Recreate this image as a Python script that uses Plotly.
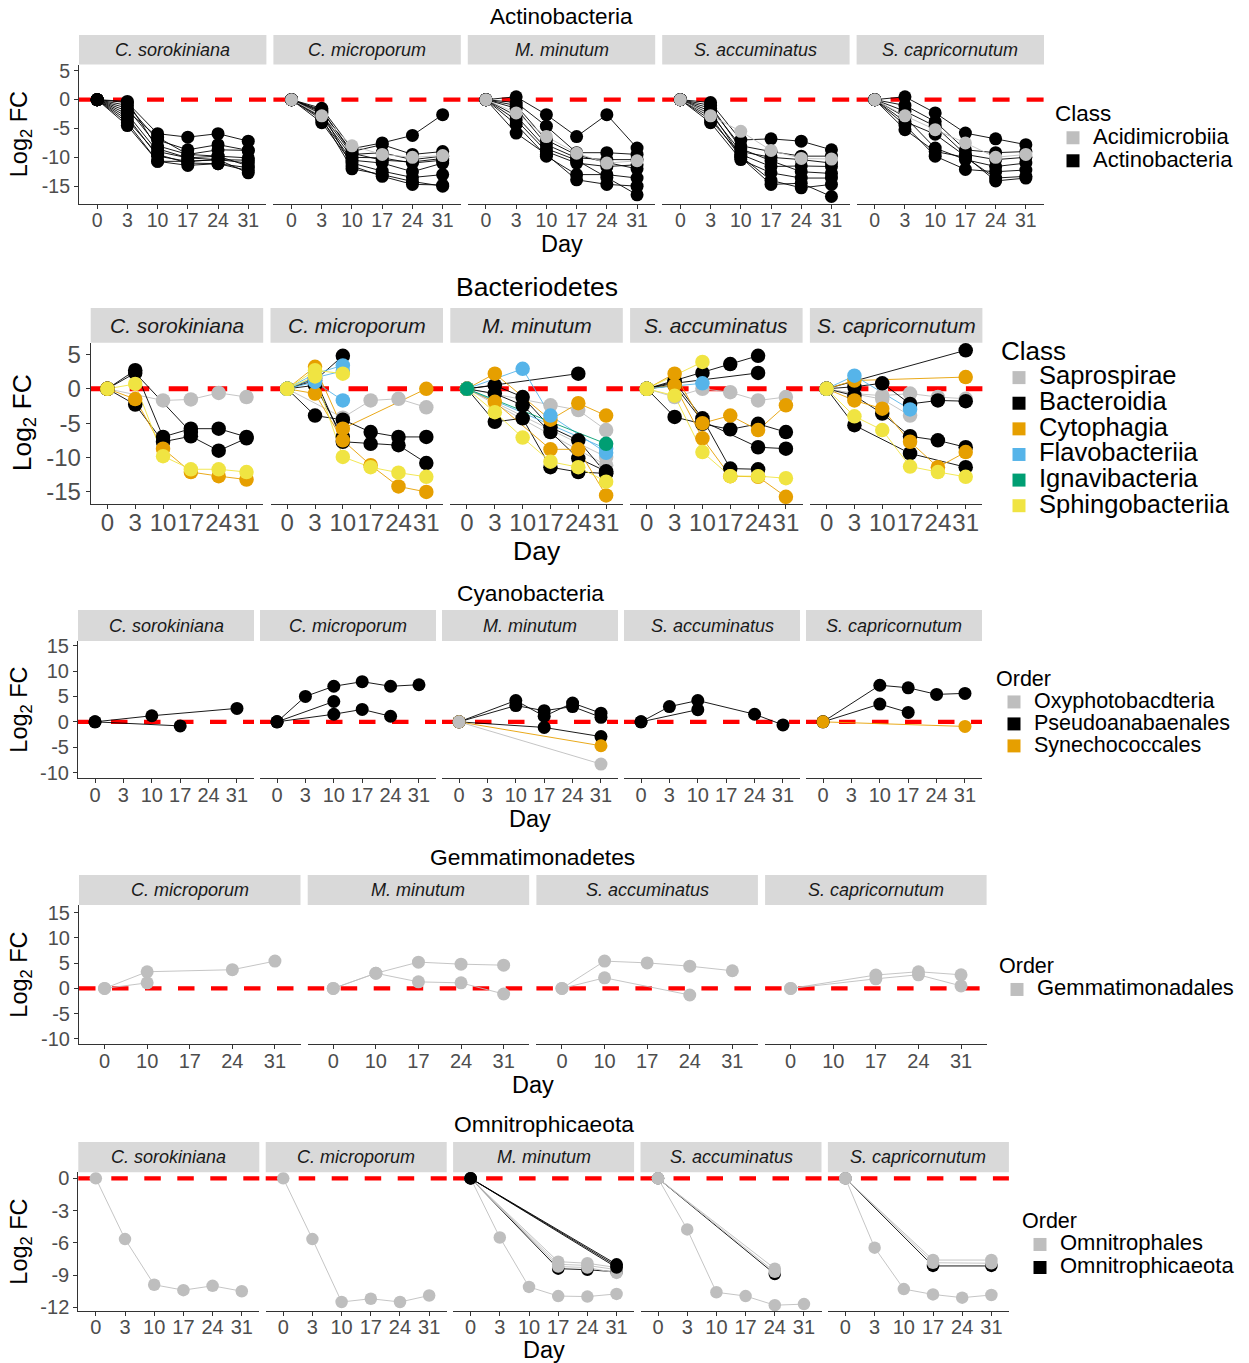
import plotly.graph_objects as go

FIG_W, FIG_H = 1249, 1363
FONT = "Liberation Sans, Arial, Helvetica, sans-serif"

# ---------------- colours ----------------
CLASS_COLORS = {
    "Acidimicrobiia": "#BEBEBE", "Actinobacteria": "#000000",
    "Saprospirae": "#BEBEBE", "Bacteroidia": "#000000", "Cytophagia": "#E69F00",
    "Flavobacteriia": "#56B4E9", "Ignavibacteria": "#009E73", "Sphingobacteriia": "#F0E442",
    "Oxyphotobacdteria": "#BEBEBE", "Pseudoanabaenales": "#000000", "Synechococcales": "#E69F00",
    "Gemmatimonadales": "#BEBEBE",
    "Omnitrophales": "#BEBEBE", "Omnitrophicaeota": "#000000",
}

# ---------------- data ----------------
DAYS6 = ["0", "3", "10", "17", "24", "31"]
DAYS5 = ["0", "10", "17", "24", "31"]
ALGAE5 = ["C. sorokiniana", "C. microporum", "M. minutum", "S. accuminatus", "S. capricornutum"]
ALGAE4 = ["C. microporum", "M. minutum", "S. accuminatus", "S. capricornutum"]

ACT_CLASSES = ["Acidimicrobiia", "Actinobacteria"]
ACT_C_SOROKINIANA = [
    ("Actinobacteria", [0, -0.5, -5.9, -6.5, -5.9, -7.2]),
    ("Actinobacteria", [0, -1.0, -7.0, -8.7, -7.8, -8.8]),
    ("Actinobacteria", [0, -1.5, -8.0, -9.5, -8.7, -8.8]),
    ("Actinobacteria", [0, -2.5, -9.0, -10.1, -9.8, -10.1]),
    ("Actinobacteria", [0, -3.0, -9.8, -10.7, -10.4, -11.0]),
    ("Actinobacteria", [0, -4.0, -10.7, -11.4, -11.1, -11.8]),
    ("Actinobacteria", [0, -4.5, -10.7, -10.7, -10.4, -12.7]),
    ("Actinobacteria", [0, -0.3, -8.5, -10.1, -10.4, -10.5]),
    ("Actinobacteria", [0, -2.0, -6.5, -9.5, -9.8, -11.5]),
    ("Actinobacteria", [0, -3.5, -9.5, -11.0, -11.1, -12.3]),
]
ACT_C_MICROPORUM = [
    ("Actinobacteria", [0, -1.5, -8.5, -7.5, -6.2, -2.6]),
    ("Actinobacteria", [0, -2.0, -9.0, -7.8, -9.5, -9.0]),
    ("Actinobacteria", [0, -2.5, -9.5, -9.2, -10.4, -9.8]),
    ("Actinobacteria", [0, -3.0, -10.0, -10.1, -11.0, -10.5]),
    ("Actinobacteria", [0, -3.5, -10.5, -11.0, -12.5, -11.0]),
    ("Actinobacteria", [0, -4.0, -11.0, -12.4, -13.5, -13.0]),
    ("Actinobacteria", [0, -2.2, -11.5, -13.3, -14.7, -14.8]),
    ("Actinobacteria", [0, -3.2, -12.0, -13.0, -14.2, -15.0]),
    ("Actinobacteria", [0, -1.8, -9.3, -10.5, -10.8, -10.2]),
    ("Acidimicrobiia", [0, -2.8, -8.0, -9.5, -10.0, -9.7]),
]
ACT_M_MINUTUM = [
    ("Actinobacteria", [0, 0.5, -2.6, -6.4, -2.6, -8.4]),
    ("Actinobacteria", [0, -0.5, -4.6, -9.2, -9.2, -9.5]),
    ("Actinobacteria", [0, -1.5, -7.8, -10.1, -10.4, -10.4]),
    ("Actinobacteria", [0, -3.5, -9.0, -11.0, -11.6, -11.3]),
    ("Actinobacteria", [0, -4.3, -9.8, -13.0, -13.0, -13.6]),
    ("Actinobacteria", [0, -5.8, -9.5, -13.9, -14.7, -15.0]),
    ("Actinobacteria", [0, -2.8, -8.5, -10.5, -13.5, -16.5]),
    ("Actinobacteria", [0, -1.0, -7.0, -9.6, -10.9, -12.0]),
    ("Acidimicrobiia", [0, -2.3, -6.4, -9.3, -11.0, -10.6]),
]
ACT_S_ACCUMINATUS = [
    ("Actinobacteria", [0, -0.5, -7.0, -6.8, -7.2, -8.7]),
    ("Actinobacteria", [0, -1.5, -8.0, -9.0, -9.8, -9.8]),
    ("Actinobacteria", [0, -2.5, -9.0, -10.0, -10.4, -11.0]),
    ("Actinobacteria", [0, -3.5, -9.5, -11.6, -11.5, -11.6]),
    ("Actinobacteria", [0, -4.0, -10.4, -12.7, -13.6, -13.6]),
    ("Actinobacteria", [0, -2.0, -9.8, -14.0, -15.3, -14.7]),
    ("Actinobacteria", [0, -3.0, -10.0, -14.7, -14.5, -16.8]),
    ("Actinobacteria", [0, -1.0, -8.5, -10.6, -12.5, -12.8]),
    ("Acidimicrobiia", [0, -2.8, -5.5, -8.8, -10.2, -10.3]),
]
ACT_S_CAPRICORNUTUM = [
    ("Actinobacteria", [0, 0.5, -2.3, -5.8, -6.8, -7.8]),
    ("Actinobacteria", [0, -1.0, -3.8, -8.7, -9.2, -9.0]),
    ("Actinobacteria", [0, -2.0, -4.6, -9.5, -10.4, -10.0]),
    ("Actinobacteria", [0, -3.0, -8.4, -10.4, -11.6, -11.0]),
    ("Actinobacteria", [0, -4.4, -9.8, -12.1, -12.5, -12.2]),
    ("Actinobacteria", [0, -5.2, -9.0, -10.0, -13.6, -13.3]),
    ("Actinobacteria", [0, -3.8, -6.0, -9.8, -14.1, -13.6]),
    ("Acidimicrobiia", [0, -2.8, -5.2, -7.5, -10.0, -9.5]),
]

BAC_CLASSES = ["Saprospirae", "Bacteroidia", "Cytophagia", "Flavobacteriia",
               "Ignavibacteria", "Sphingobacteriia"]
BAC_C_SOROKINIANA = [
    ("Saprospirae", [0, None, -1.7, -1.55, -0.6, -1.2]),
    ("Bacteroidia", [0, 2.7, -7.0, -5.8, -5.8, -7.0]),
    ("Bacteroidia", [0, -2.3, -7.7, -6.9, -9.0, -7.2]),
    ("Bacteroidia", [0, 2.3, None, -6.3, None, None]),
    ("Cytophagia", [0, -1.5, -8.7, -12.1, -12.7, -13.2]),
    ("Sphingobacteriia", [0, 0.7, -9.8, -11.7, -11.7, -12.1]),
]
BAC_C_MICROPORUM = [
    ("Saprospirae", [0, None, -4.2, -1.7, -1.45, -2.7]),
    ("Bacteroidia", [0, 1.2, 4.8, None, None, None]),
    ("Bacteroidia", [0, -3.9, -4.5, -6.3, -7.0, -7.0]),
    ("Bacteroidia", [0, 1.5, -7.7, -8.0, -8.2, -10.8]),
    ("Bacteroidia", [0, 0.5, -7.0, None, None, None]),
    ("Cytophagia", [0, 3.2, -5.8, None, None, 0.0]),
    ("Cytophagia", [0, -0.7, -7.5, -11.1, -14.2, -15.0]),
    ("Flavobacteriia", [0, 2.2, 3.4, None, None, None]),
    ("Flavobacteriia", [0, 1.6, 2.6, None, None, None]),
    ("Flavobacteriia", [0, 1.0, -1.7, None, None, None]),
    ("Sphingobacteriia", [0, 2.7, 2.2, None, None, None]),
    ("Sphingobacteriia", [0, 1.8, -9.9, -11.4, -12.2, -12.8]),
]
BAC_M_MINUTUM = [
    ("Saprospirae", [0, None, None, -2.4, -3.1, -6.0]),
    ("Saprospirae", [0, None, None, None, None, -9.9]),
    ("Saprospirae", [0, None, None, None, None, -11.1]),
    ("Bacteroidia", [0, None, None, None, 2.2, None]),
    ("Bacteroidia", [0, 0.5, -1.2, -5.6, -7.5, -12.3]),
    ("Bacteroidia", [0, -0.7, -2.4, -6.3, -10.1, -12.0]),
    ("Bacteroidia", [0, -4.8, -4.3, -11.4, -12.1, -12.3]),
    ("Cytophagia", [0, 2.2, None, -4.5, -2.1, -3.9]),
    ("Cytophagia", [0, -1.9, None, -8.8, -8.8, -15.5]),
    ("Flavobacteriia", [0, None, 2.9, -3.9, None, -9.3]),
    ("Flavobacteriia", [0, None, None, None, None, -8.7]),
    ("Sphingobacteriia", [0, -3.4, -7.1, -10.6, -11.4, -13.5]),
    ("Ignavibacteria", [0, None, None, None, None, -8.0]),
]
BAC_S_ACCUMINATUS = [
    ("Saprospirae", [0, -1.2, 0.0, -0.5, -1.7, -1.2]),
    ("Bacteroidia", [0, 1.2, 2.3, 3.6, 4.8, None]),
    ("Bacteroidia", [0, 0.8, None, None, 2.3, None]),
    ("Bacteroidia", [0, -4.1, -5.1, -5.9, -5.1, -6.3]),
    ("Bacteroidia", [0, 1.0, -4.3, -11.6, -11.7, None]),
    ("Bacteroidia", [0, 0.5, -4.7, None, -8.5, -8.7]),
    ("Cytophagia", [0, 2.2, -5.0, -3.9, -6.0, -2.4]),
    ("Cytophagia", [0, 0.5, -7.2, -12.7, -12.8, -15.7]),
    ("Flavobacteriia", [0, None, 0.8, None, None, None]),
    ("Sphingobacteriia", [0, None, 3.9, None, None, None]),
    ("Sphingobacteriia", [0, -1.0, -9.2, -12.7, -12.7, -13.0]),
]
BAC_S_CAPRICORNUTUM = [
    ("Saprospirae", [0, -0.7, -1.0, -0.7, -1.2, -1.45]),
    ("Saprospirae", [0, None, -1.5, -3.9, None, None]),
    ("Bacteroidia", [0, None, None, None, None, 5.6]),
    ("Bacteroidia", [0, 0.3, 0.8, -2.2, -1.7, -1.8]),
    ("Bacteroidia", [0, -1.0, -3.6, -6.9, -7.5, -8.5]),
    ("Bacteroidia", [0, -5.3, None, -9.4, None, -11.4]),
    ("Cytophagia", [0, 1.2, None, None, None, 1.7]),
    ("Cytophagia", [0, -1.7, -2.9, -7.7, -11.4, -9.2]),
    ("Flavobacteriia", [0, 1.9, None, -3.0, None, None]),
    ("Sphingobacteriia", [0, -4.0, -6.0, -11.3, -12.1, -12.8]),
]

CYA_CLASSES = ["Oxyphotobacdteria", "Pseudoanabaenales", "Synechococcales"]
CYA_C_SOROKINIANA = [
    ("Pseudoanabaenales", [0, None, 1.2, None, None, 2.65]),
    ("Pseudoanabaenales", [0, None, None, -0.8, None, None]),
]
CYA_C_MICROPORUM = [
    ("Pseudoanabaenales", [0, 5.0, 7.0, 7.9, 7.0, 7.3]),
    ("Pseudoanabaenales", [0, None, 4.0, None, None, None]),
    ("Pseudoanabaenales", [0, None, 1.5, 2.45, 1.1, None]),
]
CYA_M_MINUTUM = [
    ("Pseudoanabaenales", [0, None, 4.2, 1.1, 3.7, 1.7]),
    ("Pseudoanabaenales", [0, None, 3.2, 2.2, 3.0, 0.9]),
    ("Pseudoanabaenales", [0, None, None, -1.1, None, -2.9]),
    ("Synechococcales", [0, None, None, None, None, -4.7]),
    ("Oxyphotobacdteria", [0, None, None, None, None, -8.3]),
]
CYA_S_ACCUMINATUS = [
    ("Pseudoanabaenales", [0, 3.0, 4.2, None, 1.5, -0.6]),
    ("Pseudoanabaenales", [0, None, 2.4, None, None, None]),
]
CYA_S_CAPRICORNUTUM = [
    ("Pseudoanabaenales", [0, None, 7.2, 6.7, 5.4, 5.6]),
    ("Pseudoanabaenales", [0, None, 3.5, 1.85, None, None]),
    ("Synechococcales", [0, None, None, None, None, -0.9]),
]

GEM_CLASSES = ["Gemmatimonadales"]
GEM_C_MICROPORUM = [
    ("Gemmatimonadales", [0, 3.3, None, 3.7, 5.4]),
    ("Gemmatimonadales", [0, 1.1, None, None, None]),
]
GEM_M_MINUTUM = [
    ("Gemmatimonadales", [0, 3.0, 5.2, 4.8, 4.6]),
    ("Gemmatimonadales", [0, 3.0, 1.3, 1.1, -1.1]),
]
GEM_S_ACCUMINATUS = [
    ("Gemmatimonadales", [0, 5.4, 5.05, 4.4, 3.5]),
    ("Gemmatimonadales", [0, 2.1, None, -1.3, None]),
]
GEM_S_CAPRICORNUTUM = [
    ("Gemmatimonadales", [0, None, 2.65, 3.3, 2.7]),
    ("Gemmatimonadales", [0, None, 1.9, 2.7, 0.5]),
]

OMN_CLASSES = ["Omnitrophales", "Omnitrophicaeota"]
OMN_C_SOROKINIANA = [
    ("Omnitrophales", [0, -5.65, -9.9, -10.4, -10.0, -10.5]),
]
OMN_C_MICROPORUM = [
    ("Omnitrophales", [0, -5.65, -11.5, -11.2, -11.5, -10.9]),
]
OMN_M_MINUTUM = [
    ("Omnitrophicaeota", [0, None, None, -8.4, -8.5, -8.7]),
    ("Omnitrophales", [0, -5.5, -10.1, -10.95, -11.0, -10.75]),
    ("Omnitrophales", [0, None, None, -7.75, -7.9, -8.3]),
    ("Omnitrophales", [0, None, None, -8.0, -8.1, -8.5]),
    ("Omnitrophales", [0, None, None, -8.2, -8.3, -8.8]),
    ("Omnitrophicaeota", [0, None, None, None, None, -8.0]),
    ("Omnitrophicaeota", [0, None, None, None, None, -8.15]),
    ("Omnitrophicaeota", [0, None, None, None, None, -8.3]),
]
OMN_S_ACCUMINATUS = [
    ("Omnitrophicaeota", [0, None, None, None, -8.9, None]),
    ("Omnitrophales", [0, None, None, None, -8.4, None]),
    ("Omnitrophales", [0, None, None, None, -8.7, None]),
    ("Omnitrophales", [0, -4.75, -10.6, -10.95, -11.8, -11.7]),
]
OMN_S_CAPRICORNUTUM = [
    ("Omnitrophicaeota", [0, None, None, -8.15, None, -8.15]),
    ("Omnitrophales", [0, None, None, -7.6, None, -7.6]),
    ("Omnitrophales", [0, None, None, -7.85, None, -7.9]),
    ("Omnitrophales", [0, -6.45, -10.3, -10.8, -11.1, -10.85]),
]

# ---------------- layout of the rows (pixels) ----------------
ROWS = [
    dict(title="Actinobacteria", days=DAYS6, classes=ACT_CLASSES, legend_title="Class",
         panels=list(zip(ALGAE5, [ACT_C_SOROKINIANA, ACT_C_MICROPORUM, ACT_M_MINUTUM,
                                  ACT_S_ACCUMINATUS, ACT_S_CAPRICORNUTUM])),
         yrange=[-18.1, 6.1], yticks=[5, 0, -5, -10, -15],
         title_y=17, title_size=22.5, strip_top=35, top=64.5, bottom=204,
         left=79, width=187.4, step=194.4, tick_size=19.5, strip_size=18, tick_shift=-5,
         lab_size=23.5, ylab_x=20, day_y=244, msize=13, dash=17, dash_w=4.3,
         leg_x=1053, leg_y=92, leg_item=15.4, leg_text=22, leg_title=22.5),
    dict(title="Bacteriodetes", days=DAYS6, classes=BAC_CLASSES, legend_title="Class",
         panels=list(zip(ALGAE5, [BAC_C_SOROKINIANA, BAC_C_MICROPORUM, BAC_M_MINUTUM,
                                  BAC_S_ACCUMINATUS, BAC_S_CAPRICORNUTUM])),
         yrange=[-16.75, 6.7], yticks=[5, 0, -5, -10, -15],
         title_y=287, title_size=26.5, strip_top=308, top=342.7, bottom=504,
         left=90.7, width=172.5, step=179.8, tick_size=24, strip_size=21, tick_shift=-7,
         lab_size=26.5, ylab_x=24, day_y=551, msize=14.5, dash=19.5, dash_w=5,
         leg_x=999, leg_y=326, leg_item=17.4, leg_text=25.5, leg_title=26),
    dict(title="Cyanobacteria", days=DAYS6, classes=CYA_CLASSES, legend_title="Order",
         panels=list(zip(ALGAE5, [CYA_C_SOROKINIANA, CYA_C_MICROPORUM, CYA_M_MINUTUM,
                                  CYA_S_ACCUMINATUS, CYA_S_CAPRICORNUTUM])),
         yrange=[-11.1, 15.9], yticks=[15, 10, 5, 0, -5, -10],
         title_y=593, title_size=22.8, strip_top=610, top=641, bottom=778.3,
         left=78, width=176, step=182, tick_size=20, strip_size=18, tick_shift=-5,
         lab_size=23.5, ylab_x=21, day_y=819, msize=13, dash=16.5, dash_w=4.2,
         leg_x=994, leg_y=658, leg_item=14.6, leg_text=21.5, leg_title=21.5),
    dict(title="Gemmatimonadetes", days=DAYS5, classes=GEM_CLASSES, legend_title="Order",
         panels=list(zip(ALGAE4, [GEM_C_MICROPORUM, GEM_M_MINUTUM,
                                  GEM_S_ACCUMINATUS, GEM_S_CAPRICORNUTUM])),
         yrange=[-11.05, 16.5], yticks=[15, 10, 5, 0, -5, -10],
         title_y=857, title_size=22.8, strip_top=875, top=905, bottom=1044.3,
         left=79, width=221.5, step=228.7, tick_size=20, strip_size=18, tick_shift=-5,
         lab_size=23.5, ylab_x=21, day_y=1085, msize=13, dash=16.5, dash_w=4.2,
         leg_x=997, leg_y=945, leg_item=15.4, leg_text=22, leg_title=21.5),
    dict(title="Omnitrophicaeota", days=DAYS6, classes=OMN_CLASSES, legend_title="Order",
         panels=list(zip(ALGAE5, [OMN_C_SOROKINIANA, OMN_C_MICROPORUM, OMN_M_MINUTUM,
                                  OMN_S_ACCUMINATUS, OMN_S_CAPRICORNUTUM])),
         yrange=[-12.34, 0.56], yticks=[0, -3, -6, -9, -12],
         title_y=1124, title_size=22.8, strip_top=1142, top=1172.3, bottom=1311,
         left=78.3, width=181, step=187.4, tick_size=20, strip_size=18, tick_shift=-6,
         lab_size=23.5, ylab_x=21, day_y=1350, msize=12.5, dash=16.5, dash_w=4.2,
         leg_x=1020, leg_y=1200, leg_item=15.4, leg_text=22, leg_title=21.5),
]


def px_x(v):
    return v / FIG_W


def px_y(v):
    return 1 - v / FIG_H


fig = go.Figure()
layout = {}
shapes = []
annotations = []
AX = "#333333"
TICKC = "#4D4D4D"

k = 0
for r, row in enumerate(ROWS):
    legend_id = "legend" if r == 0 else f"legend{r + 1}"
    days = row["days"]
    n = len(row["panels"])
    first_axes = None
    for p, (alga, series) in enumerate(row["panels"]):
        k += 1
        xa = "x" if k == 1 else f"x{k}"
        ya = "y" if k == 1 else f"y{k}"
        if first_axes is None:
            first_axes = (xa, ya)
        left = row["left"] + p * row["step"]
        right = left + row["width"]
        layout["xaxis" if k == 1 else f"xaxis{k}"] = dict(
            domain=[px_x(left), px_x(right)], anchor=ya, type="category",
            categoryorder="array", categoryarray=days,
            tickmode="array", tickvals=days, ticktext=days, automargin=False,
            range=[-0.6, len(days) - 0.4], showline=True, linecolor=AX, linewidth=1.1,
            ticks="outside", ticklen=4, tickwidth=1.1, tickcolor=AX, tickangle=0,
            ticklabelstandoff=row["tick_shift"],
            tickfont=dict(size=row["tick_size"], color=TICKC, family=FONT),
            showgrid=False, zeroline=False, fixedrange=True)
        yax = dict(domain=[px_y(row["bottom"]), px_y(row["top"])], anchor=xa,
                   range=row["yrange"], showgrid=False, zeroline=False, fixedrange=True,
                   automargin=False)
        if p == 0:
            yax.update(showline=True, linecolor=AX, linewidth=1.1, ticks="outside",
                       ticklen=4, tickwidth=1.1, tickcolor=AX, tickmode="array",
                       tickvals=row["yticks"], ticktext=[str(t) for t in row["yticks"]],
                       tickfont=dict(size=row["tick_size"], color=TICKC, family=FONT))
        else:
            yax.update(visible=False)
        layout["yaxis" if k == 1 else f"yaxis{k}"] = yax

        # strip
        shapes.append(dict(type="rect", xref="paper", yref="paper",
                           x0=px_x(left), x1=px_x(right),
                           y0=px_y(row["top"]), y1=px_y(row["strip_top"]),
                           fillcolor="#D9D9D9", line=dict(width=0), layer="below"))
        annotations.append(dict(text=f"<i>{alga}</i>", xref="paper", yref="paper",
                                x=px_x((left + right) / 2),
                                y=px_y((row["top"] + row["strip_top"]) / 2),
                                xanchor="center", yanchor="middle", showarrow=False,
                                font=dict(size=row["strip_size"], color="#1A1A1A", family=FONT)))
        # zero reference line
        shapes.append(dict(type="line", xref=f"{xa} domain", yref=ya, x0=0, x1=1, y0=0, y1=0,
                           line=dict(color="#FF0000", width=row["dash_w"],
                                     dash=f"{row['dash']}px,{row['dash']}px"),
                           layer="below"))
        # lines then points
        for cls, vals in series:
            fig.add_trace(go.Scatter(x=days, y=vals, mode="lines", connectgaps=True,
                                     line=dict(color=CLASS_COLORS[cls], width=0.9),
                                     xaxis=xa, yaxis=ya, showlegend=False, hoverinfo="skip"))
        for cls, vals in series:
            fig.add_trace(go.Scatter(x=days, y=vals, mode="markers", name=cls,
                                     marker=dict(color=CLASS_COLORS[cls], size=row["msize"],
                                                 line=dict(width=0)),
                                     xaxis=xa, yaxis=ya, showlegend=False))
    # legend keys
    for cls in row["classes"]:
        fig.add_trace(go.Scatter(
            x=[None], y=[None], mode="markers",
            name=f"<span style='font-size:{row['leg_text']}px'>{cls}</span>",
            marker=dict(symbol="square", size=13, color=CLASS_COLORS[cls]),
            xaxis=first_axes[0], yaxis=first_axes[1],
            legend=legend_id, showlegend=True))
    layout[legend_id] = dict(x=px_x(row["leg_x"]), y=px_y(row["leg_y"]),
                             xanchor="left", yanchor="top", bgcolor="rgba(0,0,0,0)",
                             borderwidth=0, tracegroupgap=0,
                             font=dict(size=row["leg_item"], color="#000000", family=FONT),
                             title=dict(text=row["legend_title"],
                                        font=dict(size=row["leg_title"], color="#000000",
                                                  family=FONT)))

    first_left = row["left"]
    last_right = row["left"] + (n - 1) * row["step"] + row["width"]
    mid_x = (first_left + last_right) / 2
    annotations.append(dict(text=row["title"], xref="paper", yref="paper",
                            x=px_x(mid_x), y=px_y(row["title_y"]), xanchor="center",
                            yanchor="middle", showarrow=False,
                            font=dict(size=row["title_size"], color="#000000", family=FONT)))
    annotations.append(dict(text="Day", xref="paper", yref="paper",
                            x=px_x(mid_x), y=px_y(row["day_y"]), xanchor="center",
                            yanchor="middle", showarrow=False,
                            font=dict(size=row["lab_size"], color="#000000", family=FONT)))
    annotations.append(dict(text="Log<sub>2</sub> FC", xref="paper", yref="paper",
                            x=px_x(row["ylab_x"]), y=px_y((row["top"] + row["bottom"]) / 2),
                            xanchor="center", yanchor="middle", textangle=-90, showarrow=False,
                            font=dict(size=row["lab_size"], color="#000000", family=FONT)))

fig.update_layout(**layout)
fig.update_layout(width=FIG_W, height=FIG_H,
                  margin=dict(l=0, r=0, t=0, b=0, pad=0, autoexpand=False),
                  paper_bgcolor="white", plot_bgcolor="white",
                  font=dict(family=FONT), shapes=shapes, annotations=annotations,
                  hovermode="closest")

fig.write_html("out.html", config={"displayModeBar": False},
               post_script="document.body.style.margin='0';")
